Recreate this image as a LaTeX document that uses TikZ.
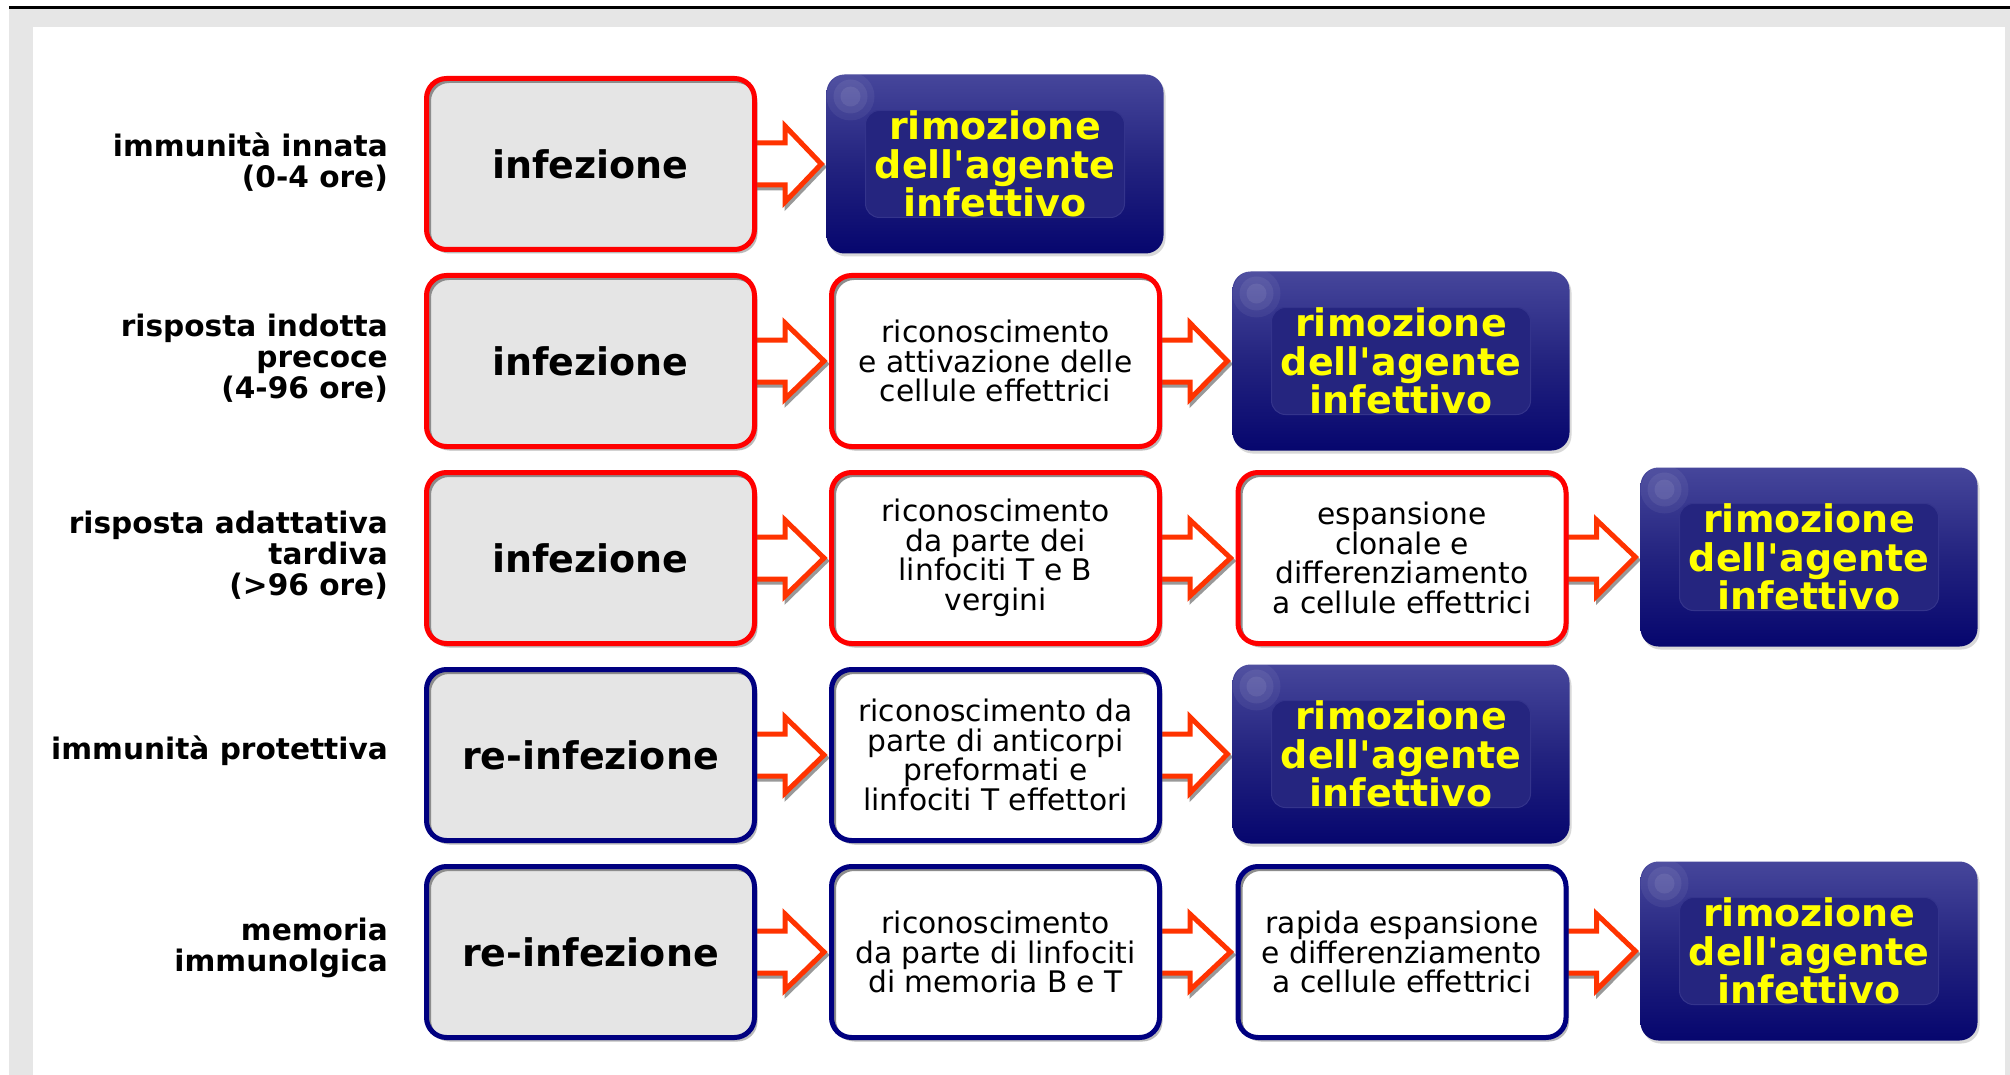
\documentclass[tikz,border=0pt]{standalone}
\usepackage{fontspec}
\setmainfont{DejaVu Sans}[Ligatures=TeXOff]
\usetikzlibrary{calc,shadows}
\definecolor{bgrey}{HTML}{E6E6E6}
\definecolor{boxgrey}{HTML}{E5E5E5}
\definecolor{bred}{HTML}{FF0000}
\definecolor{bnavy}{HTML}{000080}
\definecolor{arr}{HTML}{FF3300}
\definecolor{ytext}{HTML}{FFFF00}
\definecolor{bluetop}{HTML}{46469B}
\definecolor{bluemid}{HTML}{23237F}
\definecolor{bluebot}{HTML}{06066E}
\definecolor{blueinner}{HTML}{25257F}
\definecolor{blueline}{HTML}{34348C}
\pgfdeclarelayer{back}\pgfdeclarelayer{bg}\pgfsetlayers{back,bg,main}
\tikzset{
  basebox/.style={rounded corners=20pt, minimum width=328pt, minimum height=171pt,
    line width=5pt, inner sep=0pt, align=center,
    drop shadow={shadow xshift=3pt, shadow yshift=-4pt, opacity=.45, fill=black!60},
    path picture={\draw[black!45, line width=4pt, rounded corners=20pt]
      ([shift={(2.5,2.5)}]path picture bounding box.north west) rectangle
      ([shift={(2.5,2.5)}]path picture bounding box.south east);}},
  greybox/.style={basebox, fill=boxgrey, font=\bfseries\fontsize{38}{40}\selectfont},
  whitebox/.style={basebox, fill=white, font=\fontsize{29.7}{29.6}\selectfont},
  redb/.style={draw=bred},
  navyb/.style={draw=bnavy},
  bluebox/.style={rounded corners=18pt, minimum width=337pt, minimum height=179pt,
    inner sep=0pt, align=center, top color=bluetop, bottom color=bluebot, middle color=bluemid,
    text=ytext, font=\bfseries\fontsize{38}{38.5}\selectfont,
    drop shadow={shadow xshift=2pt, shadow yshift=-3pt, opacity=.25, fill=black!60},
    path picture={
      \fill[white, opacity=.06] ([shift={(24,22)}]path picture bounding box.north west) circle (24pt);
      \fill[white, opacity=.07] ([shift={(24,22)}]path picture bounding box.north west) circle (17pt);
      \fill[white, opacity=.08] ([shift={(24,22)}]path picture bounding box.north west) circle (10pt);
      \draw[blueline, fill=blueinner, line width=1pt, rounded corners=14pt]
        ([shift={(39,36)}]path picture bounding box.north west) rectangle
        ([shift={(-39,-36)}]path picture bounding box.south east);}},
  rowlabel/.style={anchor=east, align=right, inner sep=0pt, font=\bfseries\fontsize{29.6}{30.8}\selectfont},
  fatarrow/.style={draw=arr, fill=white, line width=5pt, line join=miter, miter limit=10},
  arrshadow/.style={draw=black!40, fill=black!40, line width=5pt, line join=miter, miter limit=10}
}
\newcommand\fatarr[2]{%
  \begin{pgfonlayer}{bg}
  \draw[arrshadow] ($(#1.east)+(-1,-18)$) -- ($(#1.east)+(30,-18)$) -- ($(#1.east)+(30,-35)$)
    -- ($(#2.west)+(-3,3)$) -- ($(#1.east)+(30,41)$) -- ($(#1.east)+(30,24)$) -- ($(#1.east)+(-1,24)$) -- cycle;
  \draw[fatarrow] ($(#1.east)+(-3,-21)$) -- ($(#1.east)+(28,-21)$) -- ($(#1.east)+(28,-38)$)
    -- ($(#2.west)+(-5,0)$) -- ($(#1.east)+(28,38)$) -- ($(#1.east)+(28,21)$) -- ($(#1.east)+(-3,21)$) -- cycle;
  \end{pgfonlayer}}
\begin{document}
\begin{tikzpicture}[x=1pt,y=-1pt]
\useasboundingbox (0,0) rectangle (2010,1075);
\begin{pgfonlayer}{back}
\fill[bgrey] (9,9) rectangle (2010,1075);
\fill[white] (33,27) rectangle (2005,1075);
\draw[black, line width=3pt] (9,8) -- (2010,8);
\end{pgfonlayer}

% labels
\node[rowlabel] (l1) at (388,162) {immunità innata\\(0-4 ore)};
\node[rowlabel] (l2) at (388,358) {risposta indotta\\precoce\\(4-96 ore)};
\node[rowlabel] (l3) at (388,555) {risposta adattativa\\tardiva\\(>96 ore)};
\node[rowlabel] (l4) at (388,751) {immunità protettiva};
\node[rowlabel] (l5) at (388,948) {memoria\\immunolgica};

% row 1
\node[greybox, redb] (g1) at (590.5,164) {infezione};
\node[bluebox] (b1) at (995,164) {rimozione\\dell'agente\\infettivo};
% row 2
\node[greybox, redb] (g2) at (590.5,361) {infezione};
\node[whitebox, redb] (w2) at (995.5,361) {riconoscimento\\e attivazione delle\\cellule effettrici};
\node[bluebox] (b2) at (1401,361) {rimozione\\dell'agente\\infettivo};
% row 3
\node[greybox, redb] (g3) at (590.5,558) {infezione};
\node[whitebox, redb] (w3a) at (995.5,558) {riconoscimento\\da parte dei\\linfociti T e B\\vergini};
\node[whitebox, redb] (w3b) at (1402,558) {espansione\\clonale e\\differenziamento\\a cellule effettrici};
\node[bluebox] (b3) at (1809,557) {rimozione\\dell'agente\\infettivo};
% row 4
\node[greybox, navyb] (g4) at (590.5,755) {re-infezione};
\node[whitebox, navyb] (w4) at (995.5,755) {riconoscimento da\\parte di anticorpi\\preformati e\\linfociti T effettori};
\node[bluebox] (b4) at (1401,754) {rimozione\\dell'agente\\infettivo};
% row 5
\node[greybox, navyb] (g5) at (590.5,952) {re-infezione};
\node[whitebox, navyb] (w5a) at (995.5,952) {riconoscimento\\da parte di linfociti\\di memoria B e T};
\node[whitebox, navyb] (w5b) at (1402,952) {rapida espansione\\e differenziamento\\a cellule effettrici};
\node[bluebox] (b5) at (1809,951) {rimozione\\dell'agente\\infettivo};

% arrows
\fatarr{g1}{b1}
\fatarr{g2}{w2}
\fatarr{w2}{b2}
\fatarr{g3}{w3a}
\fatarr{w3a}{w3b}
\fatarr{w3b}{b3}
\fatarr{g4}{w4}
\fatarr{w4}{b4}
\fatarr{g5}{w5a}
\fatarr{w5a}{w5b}
\fatarr{w5b}{b5}
\end{tikzpicture}
\end{document}
